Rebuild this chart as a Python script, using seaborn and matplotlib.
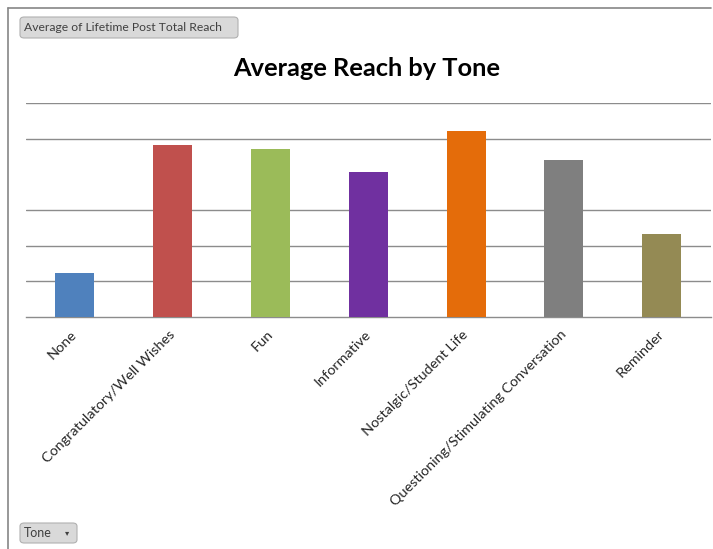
import matplotlib
matplotlib.use("Agg")
import matplotlib.pyplot as plt
from matplotlib.patches import FancyBboxPatch
from matplotlib.lines import Line2D
import seaborn as sns
import pandas as pd

categories = ["None", "Congratulatory/Well Wishes", "Fun", "Informative",
              "Nostalgic/Student Life", "Questioning/Stimulating Conversation", "Reminder"]
values = [122, 483, 472, 407, 522, 440, 234]
colors = ["#4F81BD", "#C0504D", "#9BBB59", "#7030A0", "#E46C0A", "#7F7F7F", "#948A54"]
gridlines = [100, 200, 300, 500, 600]

sns.set_style("white")
plt.rcParams['font.family'] = ['Lato', 'DejaVu Sans']

W, H = 713, 549
fig = plt.figure(figsize=(W / 100, H / 100), dpi=100)
ax = fig.add_axes([26 / W, 1 - 316.9 / H, (710.6 - 26) / W, (316.9 - 103.3) / H])

df = pd.DataFrame({"Tone": categories, "Reach": values})
sns.barplot(data=df, x="Tone", y="Reach", hue="Tone", palette=colors,
            legend=False, width=0.4, ax=ax, saturation=1, zorder=3,
            edgecolor="none")

ax.set_xlim(-0.5, len(categories) - 0.5)
ax.set_ylim(0, 600)
for g in gridlines:
    ax.axhline(g, color="#8C8C8C", lw=1.0, zorder=1)

for s in ["top", "right", "left"]:
    ax.spines[s].set_visible(False)
ax.spines["bottom"].set_color("#8C8C8C")
ax.spines["bottom"].set_linewidth(1.0)
ax.set_yticks([])
ax.set_xlabel("")
ax.set_ylabel("")

# ticks at category boundaries
ax.set_xticks([i - 0.5 for i in range(len(categories) + 1)], minor=True)
ax.tick_params(axis="x", which="minor", length=5, color="#8C8C8C", width=1, direction="out")
ax.set_xticks(range(len(categories)))
ax.set_xticklabels(categories, rotation=45, ha="right", va="center",
                   rotation_mode="anchor", fontsize=10.4, color="#262626")
ax.tick_params(axis="x", which="major", length=0, pad=11)

fig.text(367 / W, 1 - 68 / H, "Average Reach by Tone", ha="center", va="center",
         fontsize=18.3, fontweight="bold", color="black")

# frame lines
fig.add_artist(Line2D([8 / W, 8 / W], [0, 1 - 8 / H], color="#868686", lw=1.2,
                      transform=fig.transFigure))
fig.add_artist(Line2D([8 / W, 711 / W], [1 - 8 / H, 1 - 8 / H], color="#868686", lw=1.2,
                      transform=fig.transFigure))

def button(x0, y0, x1, y1, label, fs, arrow=False):
    box = FancyBboxPatch((x0 / W, 1 - y1 / H), (x1 - x0) / W, (y1 - y0) / H,
                         boxstyle="round,pad=0,rounding_size=0.006",
                         transform=fig.transFigure, facecolor="#D9D9D9",
                         edgecolor="#B0B0B0", lw=0.8)
    fig.add_artist(box)
    fig.text((x0 + 4) / W, 1 - (y0 + y1) / 2 / H, label, ha="left", va="center",
             fontsize=fs, color="#404040")
    if arrow:
        fig.text((x1 - 10) / W, 1 - (y0 + y1) / 2 / H, "▾", ha="center", va="center",
                 fontsize=6, color="#404040", family="DejaVu Sans")

button(20, 17, 238, 38, "Average of Lifetime Post Total Reach", 8.7)
button(20, 523, 77, 543, "Tone", 9, arrow=True)

fig.savefig("out.png", dpi=100)
